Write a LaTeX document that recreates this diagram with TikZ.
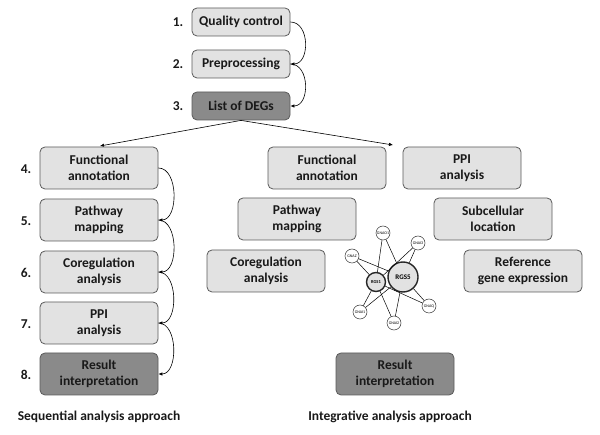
\documentclass[tikz,border=0pt]{standalone}
\usepackage{fontspec}
\setmainfont{Carlito}
\usetikzlibrary{arrows.meta}
\definecolor{boxlight}{RGB}{226,226,226}
\definecolor{boxdark}{RGB}{138,138,138}
\definecolor{boxline}{RGB}{90,90,90}
\definecolor{txt}{RGB}{25,25,25}
\begin{document}
\begin{tikzpicture}[x=1pt, y=-1pt,
    stepbox/.style={draw=boxline, fill=boxlight, rounded corners=5pt, line width=0.8pt,
        align=center, inner sep=0pt, text=txt, font=\bfseries\fontsize{13.5}{16}\selectfont},
    topbox/.style={stepbox, minimum width=98pt, minimum height=28pt},
    sidebox/.style={stepbox, minimum width=118pt, minimum height=42pt},
    darkbox/.style={fill=boxdark},
    num/.style={text=txt, font=\bfseries\fontsize{13.5}{15}\selectfont},
    flow/.style={-{Latex[length=4pt, width=3.5pt]}, line width=0.6pt},
    gene/.style={circle, draw=black!80, fill=white, line width=0.5pt, minimum size=14pt,
        inner sep=0pt, font=\fontsize{4}{5}\selectfont},
    hub/.style={circle, draw=black!85, line width=1.4pt, fill=boxlight, inner sep=0pt}]
    \useasboundingbox (0,0) rectangle (600,435);

    % Top steps
    \node [topbox] (qc) at (241,22) {Quality control};
    \node [topbox] (prep) at (241,64) {Preprocessing};
    \node [topbox, darkbox] (degs) at (241,106) {List of DEGs};
    \node [num] (l1) at (178,22) {1.};
    \node [num] (l2) at (178,64) {2.};
    \node [num] (l3) at (178,106) {3.};
    \draw [flow] (qc.east) to [out=0, in=0, looseness=1.2] (prep.east);
    \draw [flow] (prep.east) to [out=0, in=0, looseness=1.2] (degs.east);

    % Split into the two approaches
    \coordinate (lsplit) at (100,146);
    \coordinate (rsplit) at (393,145);
    \draw [flow] (degs.south) -- (lsplit);
    \draw [flow] (degs.south) -- (rsplit);

    % Sequential analysis approach
    \node [sidebox] (lfa) at (99,168) {Functional\\annotation};
    \node [sidebox] (lpm) at (99,220) {Pathway\\mapping};
    \node [sidebox] (lca) at (99,272) {Coregulation\\analysis};
    \node [sidebox] (lppi) at (99,323) {PPI\\analysis};
    \node [sidebox, darkbox] (lri) at (99,374) {Result\\interpretation};
    \node [num] (l4) at (26,169) {4.};
    \node [num] (l5) at (26,221) {5.};
    \node [num] (l6) at (26,273) {6.};
    \node [num] (l7) at (26,324) {7.};
    \node [num] (l8) at (26,375) {8.};
    \draw [flow] (lfa.east) to [out=0, in=0] (lpm.east);
    \draw [flow] (lpm.east) to [out=0, in=0] (lca.east);
    \draw [flow] (lca.east) to [out=0, in=0] (lppi.east);
    \draw [flow] (lppi.east) to [out=0, in=0] (lri.east);

    % Integrative analysis approach
    \node [sidebox] (rfa) at (327,168) {Functional\\annotation};
    \node [sidebox] (rppi) at (462,168) {PPI\\analysis};
    \node [sidebox] (rpm) at (297,219) {Pathway\\mapping};
    \node [sidebox] (rsl) at (493,219) {Subcellular\\location};
    \node [sidebox] (rca) at (266,271) {Coregulation\\analysis};
    \node [sidebox] (rge) at (523,271) {Reference\\gene expression};
    \node [sidebox, darkbox] (rri) at (395,374) {Result\\interpretation};

    % PPI network
    \node [hub, minimum size=30pt, font=\bfseries\fontsize{7}{8}\selectfont] (rgs5) at (403,277) {RGS5};
    \node [hub, minimum size=19pt, font=\bfseries\fontsize{4.5}{5}\selectfont] (rgs1) at (376,282) {RGS1};
    \node [gene] (gnao1) at (383,233) {GNAO1};
    \node [gene] (gnai3) at (418,243) {GNAI3};
    \node [gene] (gnaz) at (352,256) {GNAZ};
    \node [gene] (gnai1) at (360,312) {GNAI1};
    \node [gene] (gnai2) at (394,323) {GNAI2};
    \node [gene] (gnaq) at (429,306) {GNAQ};
    \foreach \g in {gnao1, gnai3, gnaz, gnai1, gnai2, gnaq} {
        \draw [line width=0.5pt] (\g) -- (rgs1);
        \draw [line width=0.5pt] (\g) -- (rgs5);
    }

    % Approach labels
    \node [num] (lseq) at (99,417) {Sequential analysis approach};
    \node [num] (lint) at (390,417) {Integrative analysis approach};

\end{tikzpicture}
\end{document}
